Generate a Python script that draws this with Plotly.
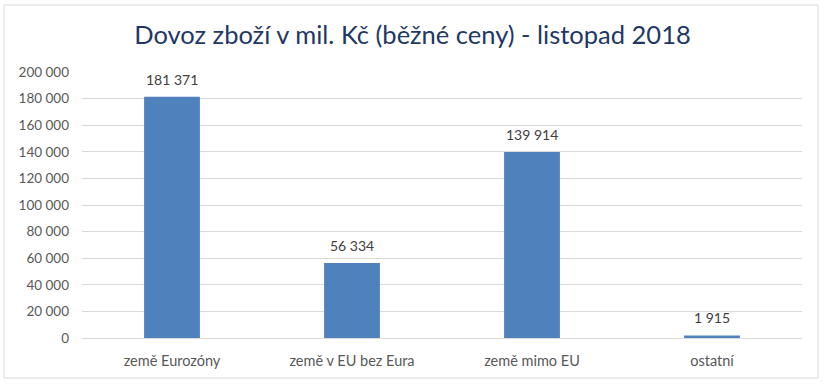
import plotly.graph_objects as go

categories = ["země Eurozóny", "země v EU bez Eura", "země mimo EU", "ostatní"]
values = [181371, 56334, 139914, 1915]
tick_vals = list(range(0, 200001, 20000))
tick_text = [f"{v:,}".replace(",", " ") for v in tick_vals]
labels = [f"{v:,}".replace(",", " ") for v in values]

fig = go.Figure()
fig.add_trace(go.Bar(
    x=categories, y=values, width=0.31,
    marker=dict(color="#4F81BD", line=dict(width=0)),
    hoverinfo="skip",
))
for c, v, t in zip(categories, values, labels):
    fig.add_annotation(x=c, y=v, text=t, showarrow=False, yanchor="bottom",
                       yshift=7, font=dict(family="Lato, sans-serif", size=14, color="#404040"))
fig.update_layout(
    width=825, height=386,
    paper_bgcolor="white", plot_bgcolor="white",
    margin=dict(l=82, r=23, t=72, b=48),
    title=dict(text="Dovoz zboží v mil. Kč (běžné ceny) - listopad 2018",
               x=0.5, xanchor="center", y=0.909, yanchor="middle",
               font=dict(family="Lato, sans-serif", size=25.5, color="#1F3864")),
    showlegend=False,
    yaxis=dict(range=[0, 200000], tickvals=tick_vals, ticktext=tick_text,
               showgrid=True, gridcolor="#D9D9D9", gridwidth=1, zeroline=False,
               tickfont=dict(family="Lato, sans-serif", size=13.5, color="#595959"),
               ticks="", showline=False, ticklabelstandoff=12),
    xaxis=dict(showline=True, linecolor="#D9D9D9", linewidth=1,
               tickfont=dict(family="Lato, sans-serif", size=14.5, color="#595959"),
               ticks="", ticklabelstandoff=10),
    shapes=[dict(type="rect", xref="paper", yref="paper",
                 x0=-(82-4)/720, x1=1 + (818-802)/720, y0=-(378-338)/266, y1=1 + (72-5)/266,
                 line=dict(color="#D9D9D9", width=1), fillcolor="rgba(0,0,0,0)")],
)
fig.write_html("out.html", config={"displayModeBar": False},
               post_script="document.body.style.margin='0';")
